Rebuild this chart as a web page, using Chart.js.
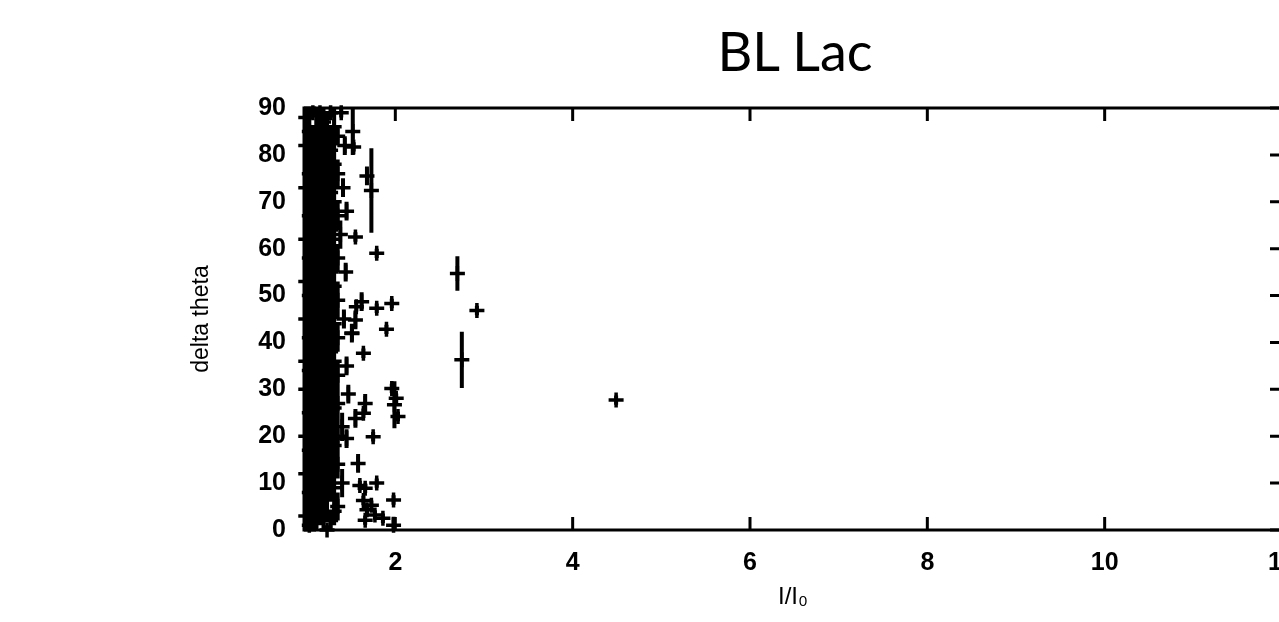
<!DOCTYPE html>
<html>
<head>
<meta charset="utf-8">
<script src="https://cdn.jsdelivr.net/npm/chart.js@4.4.0/dist/chart.umd.min.js"></script>
<style>
  html, body { margin: 0; padding: 0; background: #fff; overflow: hidden; }
  #wrap { position: relative; width: 1279px; height: 622px; overflow: hidden; }
  #chart { position: absolute; left: 0; top: 0; }
  #title { position: absolute; left: 795px; top: 18px; transform: translateX(-50%);
           font-family: Lato, "Open Sans", sans-serif; font-size: 54px; color: #000; white-space: nowrap; }
</style>
</head>
<body>
<div id="wrap">
  <canvas id="chart" width="1300" height="622"></canvas>
  <div id="title">BL Lac</div>
</div>
<script>
// axis ticks
const xTicks = [2, 4, 6, 8, 10, 12];
const yTicks = [0, 10, 20, 30, 40, 50, 60, 70, 80, 90];

// dense cluster near I/I0 = 1, one row per column of points
const colX = [0.99, 1.03, 1.07, 1.11, 1.15, 1.19, 1.23, 1.27, 1.31, 1.35];
const colY = [
  [3, 12, 20, 30, 36, 45, 53, 62, 73, 82, 88],
  [1, 8, 17, 25, 34, 41, 50, 58, 67, 76, 85],
  [4, 13, 21, 29, 38, 47, 55, 63, 71, 80, 89],
  [2, 10, 18, 27, 33, 43, 51, 60, 68, 78, 86],
  [6, 15, 23, 31, 40, 48, 57, 65, 74, 83, 89],
  [3, 11, 19, 28, 35, 45, 53, 61, 70, 79, 87],
  [0, 7, 16, 24, 32, 42, 50, 59, 66, 75, 84],
  [2, 12, 21, 30, 38, 47, 55, 64, 72, 81, 89],
  [9, 18, 26, 36, 44, 52, 62, 70, 78, 86, 4],
  [5, 14, 27, 33, 49, 58, 67, 76, 84, 41, 20]
];
const colErr = [
  [4, 6, 5, 6, 5, 6, 5, 6, 6, 5, 2],
  [2, 6, 5, 6, 5, 6, 6, 5, 6, 5, 5],
  [4, 5, 6, 5, 6, 5, 6, 5, 6, 6, 1],
  [2, 6, 5, 6, 4, 6, 5, 6, 5, 6, 4],
  [5, 6, 5, 5, 6, 5, 6, 5, 6, 5, 1],
  [3, 5, 6, 5, 6, 5, 6, 5, 6, 5, 3],
  [1, 5, 5, 6, 5, 6, 5, 6, 5, 5, 5],
  [2, 6, 5, 6, 5, 6, 5, 5, 6, 5, 1],
  [4, 5, 6, 5, 5, 5, 6, 5, 5, 4, 3],
  [3, 3, 4, 3, 4, 3, 3, 3, 2, 3, 3]
];

// edge of the cluster
const fringeX = [1.40, 1.42, 1.38, 1.41, 1.43, 1.39, 1.45, 1.47, 1.45, 1.51, 1.40, 1.44];
const fringeY = [22, 45, 63, 73, 82, 89, 68, 29, 35, 42, 10, 55];
const fringeErr = [3, 2, 3, 2, 2, 1, 2, 2, 2, 2, 3, 2];

// scattered points further out
const outX = [4.49, 2.70, 2.92, 2.75, 1.73, 1.68, 1.79, 1.55, 1.53, 1.52,
              1.62, 1.96, 1.79, 1.56, 1.90, 1.64, 1.51, 1.55, 1.96, 2.01,
              2.03, 1.99, 1.64, 1.66, 1.55, 1.75, 1.58, 1.79, 1.66, 1.98,
              1.68, 1.77, 1.86, 1.66, 1.73, 1.98, 1.45, 1.60, 1.64];
const outY = [27.7, 54.7, 46.8, 36.3, 72.4, 75.5, 59.0, 62.5, 81.7, 85,
              48.7, 48.3, 47.3, 47.6, 42.8, 37.7, 41.9, 44.8, 30.2, 28.1,
              24.2, 26.7, 24.9, 27, 23.8, 19.9, 14.2, 10.0, 8.9, 6.4,
              4.3, 3.2, 2.5, 2.1, 5.3, 1, 19.5, 9.5, 6.3];
const outErr = [1, 3.7, 1, 6, 9, 2, 1, 1, 1, 5,
                2, 1, 1, 1, 1, 1, 1, 2, 1, 1,
                1, 5, 1, 2, 2, 1, 2, 1, 1, 1,
                1, 1, 1, 1, 1, 1.8, 2, 1, 1];

const points = [];
colX.forEach((x, i) => colY[i].forEach((y, j) => points.push({ x, y, e: colErr[i][j] })));
fringeX.forEach((x, i) => points.push({ x, y: fringeY[i], e: fringeErr[i] }));
outX.forEach((x, i) => points.push({ x, y: outY[i], e: outErr[i] }));

// vertical error bars as line segments broken by gaps
const errorBars = [];
points.forEach(p => {
  errorBars.push({ x: p.x, y: p.y - p.e }, { x: p.x, y: p.y + p.e }, { x: p.x, y: null });
});

// box around the plot with inward ticks on all four sides
const frame = {
  id: 'frame',
  beforeDatasetsDraw(chart) {
    const { ctx, chartArea: a, scales: { x, y } } = chart;
    ctx.save();
    ctx.strokeStyle = '#000';
    ctx.lineWidth = 3;
    ctx.strokeRect(a.left, a.top, a.right - a.left, a.bottom - a.top);
    ctx.beginPath();
    x.ticks.forEach(t => {
      const px = x.getPixelForValue(t.value);
      ctx.moveTo(px, a.bottom); ctx.lineTo(px, a.bottom - 13);
      ctx.moveTo(px, a.top); ctx.lineTo(px, a.top + 13);
    });
    y.ticks.forEach(t => {
      const py = y.getPixelForValue(t.value);
      ctx.moveTo(a.left, py); ctx.lineTo(a.left + 12, py);
      ctx.moveTo(a.right, py); ctx.lineTo(a.right - 12, py);
    });
    ctx.stroke();
    ctx.restore();
  }
};

Chart.defaults.color = '#000';
Chart.defaults.font.family = '"Liberation Sans", Arial, sans-serif';
Chart.defaults.font.weight = 'bold';

new Chart(document.getElementById('chart'), {
  type: 'scatter',
  data: {
    datasets: [
      {
        data: errorBars,
        showLine: true,
        spanGaps: false,
        borderColor: '#000',
        borderWidth: 4,
        pointRadius: 0,
        pointHoverRadius: 0
      },
      {
        data: points,
        pointStyle: 'cross',
        pointRadius: 7.5,
        pointHoverRadius: 7.5,
        borderColor: '#000',
        borderWidth: 3.5,
        clip: false
      }
    ]
  },
  options: {
    responsive: false,
    animation: false,
    events: [],
    layout: { padding: { left: 180, top: 108, right: 18, bottom: 8 } },
    plugins: { legend: { display: false }, tooltip: { enabled: false } },
    scales: {
      x: {
        type: 'linear',
        min: 0.97,
        max: 12,
        grid: { display: false, drawTicks: false },
        border: { display: false },
        afterBuildTicks: s => { s.ticks = xTicks.map(v => ({ value: v })); },
        afterFit: s => { s.height = 84; s.paddingLeft = 0; s.paddingRight = 0; },
        ticks: { padding: 18, font: { size: 25, weight: 'bold' } },
        title: { display: true, text: 'I/I₀', font: { size: 24, weight: 'normal' }, padding: { top: 0, bottom: 2 } }
      },
      y: {
        min: 0,
        max: 90,
        grid: { display: false, drawTicks: false },
        border: { display: false },
        afterBuildTicks: s => { s.ticks = yTicks.map(v => ({ value: v })); },
        afterFit: s => { s.width = 124; },
        ticks: { padding: 18, font: { size: 25, weight: 'bold' } },
        title: { display: true, text: 'delta theta', font: { size: 23, weight: 'normal' }, padding: { top: 8, bottom: 0 } }
      }
    }
  },
  plugins: [frame]
});
</script>
</body>
</html>
